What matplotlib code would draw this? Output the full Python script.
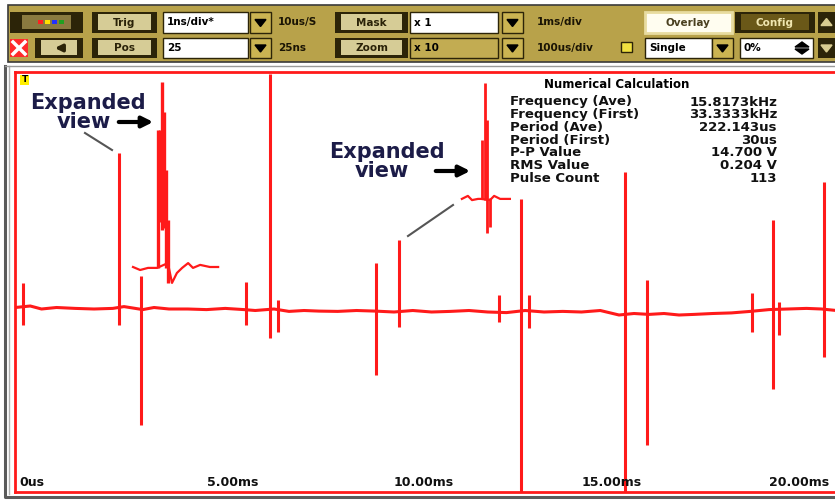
import numpy as np
import matplotlib
matplotlib.use('Agg')
import matplotlib.pyplot as plt
from matplotlib.patches import Rectangle, Polygon

plt.rcParams['font.family'] = ['DejaVu Sans']

# baseline of the captured trace (time in ms, volts)
base_t = [-0.1, 0.3, 0.6, 1.0, 1.5, 2.0, 2.5, 2.8, 3.3, 3.6, 4.0, 4.5, 5.0, 5.5, 6.0, 6.3,
          6.8, 7.2, 7.6, 8.0, 8.5, 9.0, 9.5, 10.0, 10.5, 11.0, 11.5, 12.0, 12.5, 13.0, 13.5,
          14.0, 14.5, 15.0, 15.5, 16.0, 16.4, 16.8, 17.2, 17.6, 18.0, 18.5, 19.0, 19.5, 20.0,
          20.5, 21.0, 21.4, 21.8]
base_v = [0.15, 0.2, 0.1, 0.15, 0.12, 0.1, 0.12, 0.18, 0.08, 0.15, 0.1, 0.1, 0.08, 0.12, 0.08, 0.05,
          0.1, 0.02, 0.05, 0.03, 0.02, 0.05, 0.03, 0.0, 0.05, 0.0, 0.02, 0.05, 0.0, -0.02, 0.05,
          0.0, 0.02, 0.0, 0.05, -0.1, -0.05, -0.08, -0.05, -0.1, -0.08, -0.05, -0.03, 0.02, 0.08,
          0.1, 0.12, 0.1, 0.05]

# pulses on the trace
spike_t = [0.11, 2.67, 3.25, 6.05, 6.69, 6.91, 9.52, 10.13, 12.8, 13.39, 13.6, 16.16, 16.75,
           19.55, 20.11, 20.27, 21.47]
spike_top = [0.97, 5.3, 1.2, 1.0, 7.95, 0.4, 1.63, 2.4, 0.57, 3.77, 0.57, 4.67, 1.07, 0.63, 3.07, 0.33, 4.33]
spike_bot = [-0.43, -0.43, -3.77, -0.43, -0.87, -0.67, -2.1, -0.5, -0.33, -6.5, -0.53, -6.5, -4.43,
             -0.67, -2.57, -0.77, -1.5]

# expanded view 1
exp1_t = [3.04, 3.23, 3.44, 3.68, 3.97, 4.08, 4.21, 4.35, 4.51, 4.64, 4.83, 5.09, 5.31]
exp1_v = [1.5, 1.4, 1.47, 1.47, 1.63, 0.97, 1.3, 1.47, 1.63, 1.47, 1.57, 1.5, 1.5]
exp1_spk_t = [3.71, 3.76, 3.81, 3.87, 3.92, 3.97]
exp1_spk_top = [6.07, 6.07, 7.67, 6.67, 4.73, 3.07]
exp1_spk_bot = [1.47, 3.0, 2.73, 2.8, 1.47, 0.97]

# expanded view 2
exp2_t = [11.81, 11.97, 12.08, 12.24, 12.32, 12.56, 12.67, 12.83, 13.09]
exp2_v = [3.77, 3.87, 3.73, 3.77, 3.77, 3.73, 3.87, 3.77, 3.77]
exp2_spk_t = [12.35, 12.43, 12.48, 12.56]
exp2_spk_top = [5.73, 7.63, 6.4, 3.8]
exp2_spk_bot = [3.77, 3.73, 2.63, 2.83]

tick_pos = [0, 5, 10, 15, 20]
tick_text = ['0us', '5.00ms', '10.00ms', '15.00ms', '20.00ms']

calc_labels = ['Frequency (Ave)', 'Frequency (First)', 'Period (Ave)', 'Period (First)',
               'P-P Value', 'RMS Value', 'Pulse Count']
calc_values = ['15.8173kHz', '33.3333kHz', '222.143us', '30us', '14.700 V', '0.204 V', '113']

row1_text = ['Trig', '1ns/div*', '10us/S', 'Mask', 'x 1', '1ms/div', 'Overlay', 'Config']
row2_text = ['Pos', '25', '25ns', 'Zoom', 'x 10', '100us/div', 'Single', '0%']

RED = '#ff1a1a'
GOLD = '#b8a24a'
DARK = '#2c2408'

fig = plt.figure(figsize=(8.35, 5), dpi=100)
fig.patch.set_facecolor('white')

ax = fig.add_axes([15 / 835, 8 / 500, 820 / 835, 420 / 500])
ax.set_xlim(-0.107, 21.76)
ax.set_ylim(-6, 8)
ax.set_xticks([])
ax.set_yticks([])
for side in ['top', 'left', 'bottom']:
    ax.spines[side].set_color(RED)
    ax.spines[side].set_linewidth(2)
ax.spines['right'].set_visible(False)

ax.plot(base_t, base_v, color=RED, lw=2.2)
ax.vlines(spike_t, spike_bot, spike_top, color=RED, lw=2.2)
ax.plot(exp1_t, exp1_v, color=RED, lw=1.6)
ax.vlines(exp1_spk_t, exp1_spk_bot, exp1_spk_top, color=RED, lw=2.4)
ax.plot(exp2_t, exp2_v, color=RED, lw=1.6)
ax.vlines(exp2_spk_t, exp2_spk_bot, exp2_spk_top, color=RED, lw=2)

for t, s in zip(tick_pos, tick_text):
    ax.text(t, 0.006, s, transform=ax.get_xaxis_transform(), ha='left', va='bottom',
            fontsize=9, fontweight='bold', color='#101010')

# overlay in pixel units for the instrument panel and notes
ov = fig.add_axes([0, 0, 1, 1], zorder=5)
ov.set_xlim(0, 835)
ov.set_ylim(500, 0)
ov.axis('off')
ov.patch.set_alpha(0)


def box(x0, y0, x1, y1, fc, ec='none', lw=0):
    ov.add_patch(Rectangle((x0, y0), x1 - x0, y1 - y0, facecolor=fc, edgecolor=ec, linewidth=lw))


def button(x0, x1, y0, y1, label, dark=False):
    box(x0, y0, x1, y1, DARK)
    box(x0 + 6, y0 + 2, x1 - 6, y1 - 3, '#6a5818' if dark else '#d6cc96')
    ov.text((x0 + x1) / 2, (y0 + y1) / 2, label, ha='center', va='center', fontsize=7.5,
            fontweight='bold', color='#f0e6b0' if dark else '#2a2208')


def field(x0, x1, y0, y1, label, fc='white'):
    box(x0, y0, x1, y1, fc, ec=DARK, lw=1)
    ov.text(x0 + 4, (y0 + y1) / 2, label, ha='left', va='center', fontsize=7.5,
            fontweight='bold', color='black')


def dropdown(x0, y0, y1):
    box(x0, y0, x0 + 21, y1, '#cbb452', ec=DARK, lw=1)
    ym = (y0 + y1) / 2
    ov.add_patch(Polygon([[x0 + 5, ym - 3], [x0 + 16, ym - 3], [x0 + 10.5, ym + 4]], color='black'))


def label(x, y, s):
    ov.text(x, y, s, ha='left', va='center', fontsize=7.5, fontweight='bold', color='#1a1404')


# toolbar
box(8, 5, 836, 62, GOLD, ec='#3a3a3a', lw=1.2)
r1 = (12, 33)
r2 = (38, 58)
m1 = sum(r1) / 2
m2 = sum(r2) / 2

box(10, r1[0], 83, r1[1], DARK)
box(22, r1[0] + 3, 71, r1[1] - 4, '#8a7a40')
for cx, c in zip([38, 45, 52, 59], ['#ff2020', '#ffe000', '#2030ff', '#20a020']):
    box(cx, m1 - 3, cx + 5, m1 + 1, c)
button(92, 157, *r1, row1_text[0])
field(163, 248, *r1, row1_text[1])
dropdown(250, *r1)
label(278, m1, row1_text[2])
button(335, 408, *r1, row1_text[3])
field(410, 498, *r1, row1_text[4])
dropdown(502, *r1)
label(537, m1, row1_text[5])
box(645, r1[0], 732, r1[1], '#fffdf0', ec='#e8dca0', lw=2)
ov.text(688, m1, row1_text[6], ha='center', va='center', fontsize=7.5, fontweight='bold', color='#4a4020')
button(735, 815, *r1, row1_text[7], dark=True)
box(818, r1[0], 836, r1[1], DARK)
ov.add_patch(Polygon([[821, m1 + 3], [832, m1 + 3], [826.5, m1 - 4]], color='#d8cc90'))

# second row
box(10, r2[0] + 1, 28, r2[1] - 1, '#ff2a2a')
ov.plot([13, 25], [r2[0] + 4, r2[1] - 4], color='white', lw=2.5)
ov.plot([13, 25], [r2[1] - 4, r2[0] + 4], color='white', lw=2.5)
button(35, 83, *r2, '')
ov.annotate('', xy=(52, m2), xytext=(66, m2),
            arrowprops=dict(arrowstyle='-|>', color=DARK, lw=2.5, mutation_scale=10))
button(92, 157, *r2, row2_text[0])
field(163, 248, *r2, row2_text[1])
dropdown(250, *r2)
label(278, m2, row2_text[2])
button(335, 408, *r2, row2_text[3])
field(410, 498, *r2, row2_text[4], fc='#c2ac52')
dropdown(502, *r2)
label(537, m2, row2_text[5])
box(621, m2 - 6, 632, m2 + 4, '#f0e040', ec=DARK, lw=1)
field(645, 712, *r2, row2_text[6])
dropdown(712, *r2)
field(740, 813, *r2, row2_text[7])
ov.add_patch(Polygon([[795, m2 - 1], [809, m2 - 1], [802, m2 - 6]], color='black'))
ov.add_patch(Polygon([[795, m2 + 1], [809, m2 + 1], [802, m2 + 6]], color='black'))
box(818, r2[0], 836, r2[1], DARK)
ov.add_patch(Polygon([[821, m2 - 3], [832, m2 - 3], [826.5, m2 + 4]], color='#d8cc90'))

# outer frame of the scope screen
ov.plot([5, 5, 836], [66, 497, 497], color='#5a5a5a', lw=2.2)
ov.plot([9, 9], [66, 494], color='#b0b0b0', lw=1)
ov.plot([5, 836], [66, 66], color='#9a9a9a', lw=1)

# trigger marker
box(20, 75, 29, 85, '#ffee00')
ov.text(24.5, 80, 'T', ha='center', va='center', fontsize=6.5, fontweight='bold', color='black')

# numerical calculation panel
ov.text(617, 85, 'Numerical Calculation', ha='center', va='center', fontsize=8.5,
        fontweight='bold', color='black')
for i, (lab, val) in enumerate(zip(calc_labels, calc_values)):
    y = 102 + i * 12.7
    ov.text(510, y, lab, ha='left', va='center', fontsize=9.5, fontweight='bold', color='#111111')
    ov.text(777, y, val, ha='right', va='center', fontsize=9.5, fontweight='bold', color='#111111')

# expanded view notes
NAVY = '#1c1c48'
ov.text(88, 103, 'Expanded', ha='center', va='center', fontsize=15, fontweight='bold', color=NAVY)
ov.text(84, 122, 'view', ha='center', va='center', fontsize=15, fontweight='bold', color=NAVY)
ov.annotate('', xy=(156, 122), xytext=(116, 122),
            arrowprops=dict(arrowstyle='-|>', color='black', lw=3, mutation_scale=16))
ov.plot([85, 112], [133, 150], color='#555555', lw=1.5)

ov.text(387, 152, 'Expanded', ha='center', va='center', fontsize=15, fontweight='bold', color=NAVY)
ov.text(382, 171, 'view', ha='center', va='center', fontsize=15, fontweight='bold', color=NAVY)
ov.annotate('', xy=(473, 171), xytext=(433, 171),
            arrowprops=dict(arrowstyle='-|>', color='black', lw=3, mutation_scale=16))
ov.plot([408, 453], [236, 205], color='#555555', lw=1.5)

fig.savefig('out.png', dpi=100)
